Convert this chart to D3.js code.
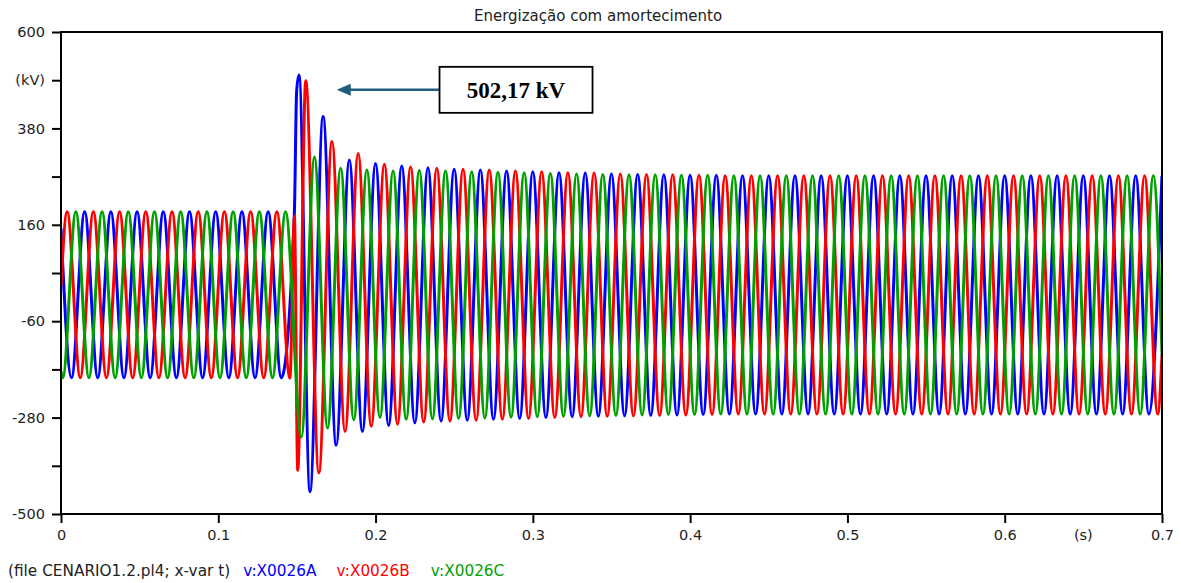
<!DOCTYPE html>
<html>
<head>
<meta charset="utf-8">
<script src="https://cdn.jsdelivr.net/npm/d3@7"></script>
<style>
  body { margin: 0; background: #fff; }
  svg { display: block; font-family: "DejaVu Sans", sans-serif; }
</style>
</head>
<body>
<div id="chart"></div>
<script>
// --- data -------------------------------------------------------------
const title = "Energização com amortecimento";
const halfCycle = 1 / 120;   // 60 Hz

const xTickValues = [0, 0.1, 0.2, 0.3, 0.4, 0.5, 0.6, 0.7];
const xTickLabels = ["0", "0.1", "0.2", "0.3", "0.4", "0.5", "0.6", "0.7"];
const yTickValues = [600, 490, 380, 270, 160, 50, -60, -170, -280, -390, -500];
const yTickLabels = ["600", "(kV)", "380", "", "160", "", "-60", "", "-280", "", "-500"];

// value at t = 0 and t = 0.7 (kV)
const startA = 152, startB = 20, startC = -174;
const endB = -136, endC = -136;

// first extremum time (s) of the pre-energization stretch and the post stretch
const preStartA = 0.0067, preStartB = 0.0039, preStartC = 0.0011;
const postStartA = 0.1583, postStartB = 0.1556, postStartC = 0.1528;

// half-cycle extrema before energization (kV)
const preA = [-189, 190, -189, 190, -189, 190, -189, 190, -189, 190, -189, 190, -189, 190, -189, 190, -189, 187];
const preB = [190, -189, 190, -189, 190, -189, 190, -189, 190, -189, 190, -189, 190, -189, 190, -189, 190, -190];
const preC = [-189, 190, -189, 190, -189, 190, -189, 190, -189, 190, -189, 190, -189, 190, -189, 190, -189, 190];

// switching spikes [t, kV]
const spikeA = [[0.1498, 464], [0.1513, 502]];
const spikeB = [[0.1484, 180], [0.1505, -400]];
const spikeC = [];

// half-cycle extrema after energization (kV)
const postA = [-449, 407, -343, 308, -312, 300, -298, 294, -292, 290, -288, 287, -286, 285, -284, 283,
  -282, 281, -280, 279, -278, 278, -277, 276, -276, 275, -275, 274, -274, 273, -273, 273,
  -272, 272, -272, 272, -272, 272, -272, 272, -272, 272, -272, 272, -272, 272, -272, 272,
  -272, 272, -272, 272, -272, 272, -272, 272, -272, 272, -272, 272, -272, 272, -272, 272, -272, 272];
const postB = [489, -406, 350, -312, 323, -300, 298, -295, 292, -290, 289, -288, 287, -286, 285, -284,
  283, -282, 281, -280, 279, -278, 278, -277, 276, -276, 275, -275, 274, -274, 273, -273,
  272, -272, 272, -272, 272, -272, 272, -272, 272, -272, 272, -272, 272, -272, 272, -272,
  272, -272, 272, -272, 272, -272, 272, -272, 272, -272, 272, -272, 272, -272, 272, -272, 272, -272];
const postC = [-324, 315, -304, 289, -285, 285, -280, 283, -284, 284, -283, 283, -282, 281, -281, 280,
  -279, 279, -278, 277, -277, 276, -276, 275, -275, 274, -274, 274, -273, 273, -273, 273,
  -272, 272, -272, 272, -272, 272, -272, 272, -272, 272, -272, 272, -272, 272, -272, 272,
  -272, 272, -272, 272, -272, 272, -272, 272, -272, 272, -272, 272, -272, 272, -272, 272, -272, 272];

const seriesNames = ["v:X0026A", "v:X0026B", "v:X0026C"];
const seriesColors = ["#0000ff", "#ff0000", "#00a000"];
const fileLabel = "(file CENARIO1.2.pl4; x-var t)";

// annotation: arrow tip and box centre in data units
const peakLabel = "502,17 kV";
const arrowTip = [0.1753, 468];
const boxCentre = [0.2893, 468];

// --- build knot lists --------------------------------------------------
function buildKnots(start, preStart, pre, spike, postStart, post, end) {
  const knots = [[0, start]];
  pre.forEach((v, i) => knots.push([preStart + i * halfCycle, v]));
  spike.forEach(d => knots.push(d));
  post.forEach((v, i) => knots.push([postStart + i * halfCycle, v]));
  if (end !== null) knots.push([0.7, end]);
  return knots.filter(d => d[0] <= 0.7 + 1e-9);
}

const series = [
  buildKnots(startA, preStartA, preA, spikeA, postStartA, postA, null),
  buildKnots(startB, preStartB, preB, spikeB, postStartB, postB, endB),
  buildKnots(startC, preStartC, preC, spikeC, postStartC, postC, endC)
];

// --- drawing -----------------------------------------------------------
const width = 1181, height = 583;
const plot = { left: 61, right: 1162, top: 32, bottom: 514 };

const x = d3.scaleLinear().domain([0, 0.7]).range([plot.left, plot.right]);
const y = d3.scaleLinear().domain([-500, 600]).range([plot.bottom, plot.top]);

const svg = d3.select("#chart").append("svg")
  .attr("width", width)
  .attr("height", height);

svg.append("defs").append("clipPath").attr("id", "plotClip")
  .append("rect")
  .attr("x", plot.left).attr("y", plot.top)
  .attr("width", plot.right - plot.left).attr("height", plot.bottom - plot.top);

// title
svg.append("text")
  .attr("x", 598)
  .attr("y", 21)
  .attr("text-anchor", "middle")
  .style("font-size", "15px")
  .attr("fill", "#222")
  .text(title);

// waveforms
const line = d3.line()
  .x(d => x(d[0]))
  .y(d => y(d[1]))
  .curve(d3.curveMonotoneX);

svg.append("g")
  .attr("clip-path", "url(#plotClip)")
  .selectAll("path")
  .data(series)
  .enter()
  .append("path")
  .attr("fill", "none")
  .attr("stroke", (d, i) => seriesColors[i])
  .attr("stroke-width", 3)
  .attr("stroke-linejoin", "round")
  .attr("d", line);

// axes
const yAxis = d3.axisLeft(y)
  .tickValues(yTickValues)
  .tickFormat((d, i) => yTickLabels[i])
  .tickSize(9)
  .tickSizeOuter(0)
  .tickPadding(7);

const xAxis = d3.axisBottom(x)
  .tickValues(xTickValues)
  .tickFormat((d, i) => xTickLabels[i])
  .tickSize(9)
  .tickSizeOuter(0)
  .tickPadding(7);

const gy = svg.append("g")
  .attr("transform", `translate(${plot.left},0)`)
  .call(yAxis);
const gx = svg.append("g")
  .attr("transform", `translate(0,${plot.bottom})`)
  .call(xAxis);

[gx, gy].forEach(g => {
  g.select(".domain").remove();
  g.selectAll(".tick line").attr("stroke", "#000").attr("stroke-width", 2);
  g.selectAll(".tick text")
    .attr("fill", "#222")
    .style("font-size", "14.5px")
    .style("font-family", "DejaVu Sans, sans-serif");
});

// frame
svg.append("rect")
  .attr("x", plot.left)
  .attr("y", plot.top)
  .attr("width", plot.right - plot.left)
  .attr("height", plot.bottom - plot.top)
  .attr("fill", "none")
  .attr("stroke", "#000")
  .attr("stroke-width", 2);

// x unit
svg.append("text")
  .attr("x", x(0.65))
  .attr("y", plot.bottom + 16)
  .attr("dy", "0.71em")
  .attr("text-anchor", "middle")
  .attr("fill", "#222")
  .style("font-size", "14.5px")
  .text("(s)");

// legend line
const legend = svg.append("text")
  .attr("x", 8)
  .attr("y", 576)
  .style("font-size", "15.3px");
legend.append("tspan").attr("fill", "#222").text(fileLabel);
seriesNames.forEach((name, i) => {
  legend.append("tspan")
    .attr("dx", i === 0 ? 13 : 21)
    .attr("fill", seriesColors[i])
    .text(name);
});

// annotation arrow + box
const arrowColor = "#215e7c";
const tipX = x(arrowTip[0]), tipY = y(arrowTip[1]);
const boxW = 153, boxH = 46;
const bx = x(boxCentre[0]) - boxW / 2, by = y(boxCentre[1]) - boxH / 2;

svg.append("line")
  .attr("x1", bx)
  .attr("y1", tipY)
  .attr("x2", tipX + 12)
  .attr("y2", tipY)
  .attr("stroke", arrowColor)
  .attr("stroke-width", 2.5);

svg.append("path")
  .attr("d", `M${tipX},${tipY} L${tipX + 14},${tipY - 6} L${tipX + 14},${tipY + 6} Z`)
  .attr("fill", arrowColor);

svg.append("rect")
  .attr("x", bx)
  .attr("y", by)
  .attr("width", boxW)
  .attr("height", boxH)
  .attr("fill", "#fff")
  .attr("stroke", "#000")
  .attr("stroke-width", 1.8);

svg.append("text")
  .attr("x", bx + boxW / 2)
  .attr("y", by + boxH / 2)
  .attr("dy", "0.35em")
  .attr("text-anchor", "middle")
  .style("font-family", "Liberation Serif, serif")
  .style("font-weight", "bold")
  .style("font-size", "23px")
  .text(peakLabel);
</script>
</body>
</html>
